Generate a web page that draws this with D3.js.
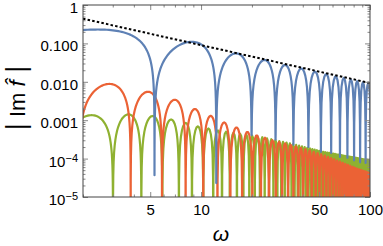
<!DOCTYPE html>
<html>
<head>
<meta charset="utf-8">
<style>
body { margin: 0; background: #fff; }
svg { display: block; font-family: "Liberation Sans", Arial, sans-serif; }
.curve { fill: none; stroke-width: 2.2px; stroke-linejoin: round; }
.frame { fill: none; stroke: #444; stroke-width: 1px; }
.axis path { display: none; }
.axis line { stroke: #888; }
.axis text { font-size: 15px; fill: #000; font-family: "Liberation Sans", Arial, sans-serif; }
</style>
</head>
<body>
<svg width="383" height="246"></svg>
<script src="https://cdn.jsdelivr.net/npm/d3@7"></script>
<script>

// axis ranges and tick labels
var xDomain = [2, 100];
var yDomain = [1e-5, 1];
var xMajorTicks = [5, 10, 50, 100];
var xMajorLabels = ["5", "10", "50", "100"];
var yMajorTicks = [1, 0.1, 0.01, 0.001, 1e-4, 1e-5];
var yMajorLabels = ["1", "0.100", "0.010", "0.001", "10^−4", "10^−5"];

// dotted reference line (end points)
var refLine = [[2, 0.44], [100, 0.0093]];

// blue: zeros, lobe peaks, depth reached at each zero
var blueZeros = [-0.4, 5.3, 12.3, 19.9, 27.6, 35.2, 43.2, 51.2, 58.9, 66.4, 73.5, 80.5, 87.4, 94.2, 101];
var bluePeaks = [0.23, 0.11, 0.055, 0.037, 0.0275, 0.0222, 0.0185, 0.016, 0.014, 0.0126, 0.0114, 0.0104, 0.0097, 0.0091];
var blueDips = [0.2, 3.7e-5, 2.3e-5, 4.1e-4, 3.1e-4, 2.3e-4, 2.0e-4, 1.5e-4, 1.4e-4, 1.1e-4, 1.05e-4, 9e-5, 8e-5, 7.7e-5, 7e-5];

// orange: zeros and peak envelope
var orangeZeros = [1.9, 3.83, 5.87, 8.1, 10.3, 12.5, 14.9, 17.5, 20.1, 22.6, 25.2, 27.7, 30.2, 32.7, 35.2,
  37.7, 40.2, 42.7, 45.2, 47.7, 50.2, 52.7, 55.2, 57.7, 60.2, 62.7, 65.2, 67.7, 70.2, 72.7, 75.2, 77.7,
  80.2, 82.7, 85.2, 87.7, 90.2, 92.7, 95.2, 97.7, 100.2];
var orangeTop = [[2.86, 8.8e-3], [4.85, 5.5e-3], [7.0, 3.4e-3], [9.2, 1.96e-3], [11.4, 1.3e-3], [13.7, 8.8e-4],
  [16.2, 6.5e-4], [18.8, 5.0e-4], [21.3, 4.1e-4], [23.9, 3.5e-4], [26.6, 3.0e-4], [33.5, 2.3e-4],
  [42, 1.73e-4], [53, 1.23e-4], [66, 8.4e-5], [83, 5.6e-5], [100, 4.2e-5]];

// green: zeros and peak envelope
var greenZeros = [1.49, 3.01, 4.43, 5.9, 7.39, 8.83, 10.3, 11.8, 13.3, 14.8, 16.3, 17.8, 19.3, 20.8, 22.3,
  23.8, 25.3, 26.8, 28.3, 29.8, 31.3, 32.8, 34.3, 35.8, 37.3, 38.8, 40.3, 41.8, 43.3, 44.8, 46.3, 47.8,
  49.3, 50.8, 52.3, 53.8, 55.3, 56.8, 58.3, 59.8, 61.3, 62.8, 64.3, 65.8, 67.3, 68.8, 70.3, 71.8, 73.3,
  74.8, 76.3, 77.8, 79.3, 80.8, 82.3, 83.8, 85.3, 86.8, 88.3, 89.8, 91.3, 92.8, 94.3, 95.8, 97.3, 98.8, 100.3];
var greenTop = [[2.25, 1.35e-3], [3.72, 1.42e-3], [5.17, 1.29e-3], [6.64, 1.05e-3], [8.1, 8.5e-4], [9.57, 6.9e-4],
  [11.05, 6.1e-4], [12.6, 5.5e-4], [14.1, 5.0e-4], [17, 4.4e-4], [22.4, 3.7e-4], [33.5, 2.5e-4],
  [53, 1.5e-4], [100, 9e-5]];

var svg = d3.select("svg"),
    margin = {top: 5, right: 13, bottom: 49, left: 83},
    width = +svg.attr("width") - margin.left - margin.right,
    height = +svg.attr("height") - margin.top - margin.bottom,
    g = svg.append("g").attr("transform", "translate(" + margin.left + "," + margin.top + ")");

var x = d3.scaleLog().domain(xDomain).range([0, width]);
var y = d3.scaleLog().domain(yDomain).range([height, 0]);

// envelope lookup in log-log space
function topScale(pts) {
  var s = d3.scaleLinear()
      .domain(pts.map(function(d) { return Math.log10(d[0]); }))
      .range(pts.map(function(d) { return Math.log10(d[1]); }));
  return function(w) { return Math.pow(10, s(Math.log10(w))); };
}

// one arch per pair of zeros
function arches(zeros, ampOf, dipOf) {
  var pts = [];
  for (var i = 0; i < zeros.length - 1; i++) {
    var a = zeros[i], b = zeros[i + 1];
    var amp = ampOf(i, (a + b) / 2);
    var px = x(b) - x(Math.max(a, 1.5));
    var n = Math.max(10, Math.ceil(px * 1.2));
    for (var s = (i === 0 ? 0 : 1); s <= n; s++) {
      var t = (1 - Math.cos(Math.PI * s / n)) / 2;
      var w = a + t * (b - a);
      if (w < 1.8) continue;
      var dip = t < 0.5 ? dipOf(i) : dipOf(i + 1);
      pts.push([w, Math.max(amp * Math.sin(Math.PI * t), dip)]);
    }
  }
  return pts;
}

var line = d3.line()
    .x(function(d) { return x(d[0]); })
    .y(function(d) { return y(d[1]); });

svg.append("defs").append("clipPath").attr("id", "clip")
  .append("rect").attr("width", width).attr("height", height);

var plot = g.append("g").attr("clip-path", "url(#clip)");

var greenAmp = topScale(greenTop), orangeAmp = topScale(orangeTop);

plot.append("path")
    .datum(arches(greenZeros, function(i, m) { return greenAmp(m); }, function() { return 1e-9; }))
    .attr("class", "curve").attr("stroke", "#8FB131").attr("d", line);

plot.append("path")
    .datum(arches(orangeZeros, function(i, m) { return orangeAmp(m); }, function() { return 1e-9; }))
    .attr("class", "curve").attr("stroke", "#EB6235").attr("d", line);

plot.append("path")
    .datum(arches(blueZeros, function(i) { return bluePeaks[i]; }, function(i) { return blueDips[i]; }))
    .attr("class", "curve").attr("stroke", "#5E81B5").attr("d", line);

plot.append("path")
    .datum(refLine)
    .attr("fill", "none")
    .attr("stroke", "#000")
    .attr("stroke-width", 2)
    .attr("stroke-dasharray", "2.5,2.2")
    .attr("d", line);

// ticks (inward), major and minor
var xMinor = x.ticks().filter(function(v) { return xMajorTicks.indexOf(v) < 0; });
var yMinor = y.ticks().filter(function(v) { return !yMajorTicks.some(function(m) { return Math.abs(m - v) / v < 1e-6; }); });

g.append("g").attr("class", "axis")
    .attr("transform", "translate(0," + height + ")")
    .call(d3.axisBottom(x).tickValues(xMajorTicks).tickSize(-5).tickPadding(7)
      .tickFormat(function(d, i) { return xMajorLabels[i]; }));
g.append("g").attr("class", "axis")
    .attr("transform", "translate(0," + height + ")")
    .call(d3.axisBottom(x).tickValues(xMinor).tickSize(-2.5).tickFormat(""));
g.append("g").attr("class", "axis")
    .call(d3.axisTop(x).tickValues(xMajorTicks).tickSize(-5).tickFormat(""));
g.append("g").attr("class", "axis")
    .call(d3.axisTop(x).tickValues(xMinor).tickSize(-2.5).tickFormat(""));

var yAxis = g.append("g").attr("class", "axis")
    .call(d3.axisLeft(y).tickValues(yMajorTicks).tickSize(-5).tickPadding(5)
      .tickFormat(function(d, i) { return yMajorLabels[i]; }));
yAxis.selectAll("text").attr("dy", "0.5em");
g.append("g").attr("class", "axis")
    .call(d3.axisLeft(y).tickValues(yMinor).tickSize(-2.5).tickFormat(""));
g.append("g").attr("class", "axis")
    .attr("transform", "translate(" + width + ",0)")
    .call(d3.axisRight(y).tickValues(yMajorTicks).tickSize(-5).tickFormat(""));
g.append("g").attr("class", "axis")
    .attr("transform", "translate(" + width + ",0)")
    .call(d3.axisRight(y).tickValues(yMinor).tickSize(-2.5).tickFormat(""));

// superscript labels
yAxis.selectAll("text").each(function() {
  var t = d3.select(this), s = t.text();
  if (s.indexOf("^") < 0) return;
  var parts = s.split("^");
  t.text("");
  t.append("tspan").text(parts[0]);
  t.append("tspan").attr("dy", "-0.45em").attr("font-size", "11px").text(parts[1]);
});

g.append("rect").attr("class", "frame")
    .attr("x", 0).attr("y", 0).attr("width", width).attr("height", height);

// axis titles
svg.append("text")
    .attr("x", 221).attr("y", 241)
    .attr("text-anchor", "middle")
    .attr("font-size", "21px")
    .attr("font-style", "italic")
    .text("ω");

var yt = svg.append("text")
    .attr("transform", "translate(25,98) rotate(-90)")
    .attr("text-anchor", "middle")
    .attr("font-size", "22px");
yt.append("tspan").attr("font-size", "27px").text("|");
yt.append("tspan").text(" Im ");
yt.append("tspan").attr("font-style", "italic").text("f\u0302");
yt.append("tspan").attr("font-size", "27px").text(" |");

</script>
</body></html>
